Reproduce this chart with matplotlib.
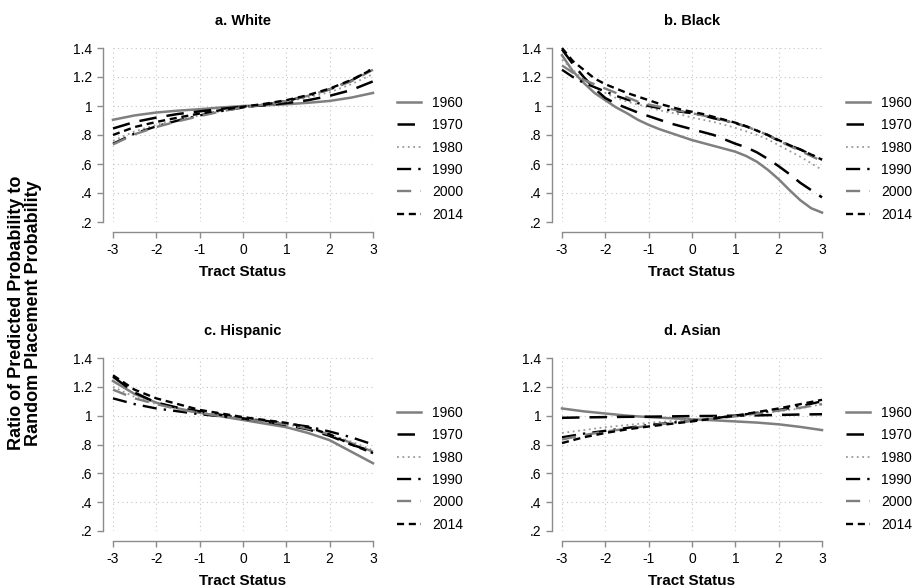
import matplotlib
matplotlib.use("Agg")
import matplotlib.pyplot as plt
import numpy as np

plt.rcParams['font.family'] = ['Liberation Sans', 'DejaVu Sans']

# tract status grids the curves are read at
x = np.arange(-3, 3.01, 0.5)
x_fine = np.arange(-3, 3.01, 0.25)

years = ["1960", "1970", "1980", "1990", "2000", "2014"]

white = {
    "1960": [0.905, 0.935, 0.955, 0.968, 0.978, 0.99, 1.0, 1.005, 1.012, 1.022, 1.035, 1.058, 1.09],
    "1970": [0.845, 0.89, 0.92, 0.945, 0.963, 0.98, 0.995, 1.005, 1.02, 1.04, 1.07, 1.11, 1.17],
    "1980": [0.76, 0.825, 0.87, 0.905, 0.935, 0.965, 0.99, 1.01, 1.03, 1.06, 1.095, 1.15, 1.22],
    "1990": [0.74, 0.81, 0.86, 0.90, 0.935, 0.965, 0.99, 1.01, 1.035, 1.07, 1.115, 1.175, 1.26],
    "2000": [0.735, 0.805, 0.855, 0.895, 0.93, 0.963, 0.99, 1.01, 1.035, 1.07, 1.115, 1.17, 1.25],
    "2014": [0.80, 0.855, 0.89, 0.92, 0.948, 0.972, 0.995, 1.015, 1.04, 1.075, 1.12, 1.18, 1.255],
}
# black panel bends more, read every quarter step
black = {
    "1960": [1.35, 1.24, 1.16, 1.09, 1.04, 0.99, 0.95, 0.905, 0.87, 0.84, 0.815, 0.79, 0.765,
             0.745, 0.725, 0.705, 0.685, 0.655, 0.615, 0.56, 0.495, 0.42, 0.35, 0.295, 0.265],
    "1970": [1.39, 1.29, 1.20, 1.12, 1.055, 1.015, 0.985, 0.955, 0.93, 0.905, 0.88, 0.86, 0.84,
             0.82, 0.80, 0.77, 0.74, 0.715, 0.68, 0.635, 0.585, 0.53, 0.47, 0.42, 0.37],
    "1980": [1.32, 1.25, 1.18, 1.13, 1.09, 1.055, 1.03, 1.01, 0.99, 0.97, 0.955, 0.94, 0.92,
             0.905, 0.89, 0.87, 0.85, 0.825, 0.80, 0.77, 0.73, 0.69, 0.65, 0.605, 0.56],
    "1990": [1.25, 1.20, 1.16, 1.13, 1.10, 1.07, 1.045, 1.02, 1.0, 0.985, 0.97, 0.96, 0.95,
             0.935, 0.915, 0.90, 0.88, 0.86, 0.83, 0.80, 0.76, 0.73, 0.70, 0.665, 0.63],
    "2000": [1.28, 1.23, 1.18, 1.15, 1.12, 1.09, 1.06, 1.03, 1.01, 0.995, 0.98, 0.965, 0.95,
             0.935, 0.92, 0.90, 0.88, 0.86, 0.83, 0.80, 0.76, 0.725, 0.69, 0.655, 0.62],
    "2014": [1.40, 1.31, 1.25, 1.19, 1.15, 1.12, 1.09, 1.065, 1.04, 1.015, 0.995, 0.975, 0.96,
             0.945, 0.925, 0.905, 0.885, 0.86, 0.83, 0.80, 0.765, 0.73, 0.70, 0.665, 0.63],
}
hispanic = {
    "1960": [1.24, 1.15, 1.09, 1.05, 1.02, 0.995, 0.97, 0.945, 0.92, 0.88, 0.83, 0.75, 0.67],
    "1970": [1.27, 1.16, 1.09, 1.055, 1.03, 1.005, 0.98, 0.96, 0.935, 0.905, 0.86, 0.80, 0.75],
    "1980": [1.20, 1.13, 1.08, 1.045, 1.02, 1.0, 0.98, 0.96, 0.94, 0.91, 0.87, 0.82, 0.76],
    "1990": [1.12, 1.08, 1.05, 1.03, 1.01, 0.995, 0.98, 0.965, 0.945, 0.925, 0.89, 0.85, 0.80],
    "2000": [1.18, 1.12, 1.08, 1.045, 1.02, 0.995, 0.975, 0.96, 0.94, 0.91, 0.87, 0.81, 0.75],
    "2014": [1.28, 1.18, 1.12, 1.08, 1.04, 1.015, 0.99, 0.97, 0.95, 0.92, 0.87, 0.80, 0.74],
}
asian = {
    "1960": [1.05, 1.03, 1.015, 1.0, 0.99, 0.982, 0.975, 0.968, 0.96, 0.952, 0.94, 0.922, 0.90],
    "1970": [0.985, 0.988, 0.99, 0.992, 0.993, 0.995, 0.997, 0.998, 1.0, 1.002, 1.005, 1.008, 1.01],
    "1980": [0.88, 0.90, 0.92, 0.935, 0.95, 0.962, 0.975, 0.988, 1.0, 1.015, 1.03, 1.05, 1.08],
    "1990": [0.85, 0.875, 0.895, 0.915, 0.935, 0.95, 0.965, 0.982, 1.0, 1.02, 1.04, 1.065, 1.10],
    "2000": [0.835, 0.865, 0.89, 0.91, 0.93, 0.948, 0.965, 0.98, 0.995, 1.015, 1.035, 1.055, 1.08],
    "2014": [0.81, 0.85, 0.88, 0.905, 0.925, 0.943, 0.96, 0.98, 1.0, 1.025, 1.05, 1.08, 1.11],
}

panels = [("a. White", x, white), ("b. Black", x_fine, black),
          ("c. Hispanic", x, hispanic), ("d. Asian", x, asian)]

xticks = [-3, -2, -1, 0, 1, 2, 3]
yticks = [0.2, 0.4, 0.6, 0.8, 1.0, 1.2, 1.4]
ylabels = [".2", ".4", ".6", ".8", "1", "1.2", "1.4"]

gray = "#7f7f7f"
styles = {
    "1960": dict(color=gray, ls="-", lw=1.8),
    "1970": dict(color="black", ls=(0, (7, 4)), lw=1.8),
    "1980": dict(color="#9a9a9a", ls=(0, (1, 2)), lw=1.3),
    "1990": dict(color="black", ls=(0, (6, 3, 1, 3)), lw=1.7),
    "2000": dict(color=gray, ls=(0, (6, 4)), lw=1.7),
    "2014": dict(color="black", ls=(0, (3, 2)), lw=1.7),
}

W, H = 914, 587
fig = plt.figure(figsize=(W / 100, H / 100), dpi=100)

# pixel positions: (left x of -3, top y of 1.4, bottom y of .2)
boxes = [(113, 48, 222), (562, 48, 222), (113, 358, 531), (562, 358, 531)]
plot_w = 260

for (title, xs, data), (lx, ty, by) in zip(panels, boxes):
    ax = fig.add_axes([lx / W, 1 - by / H, plot_w / W, (by - ty) / H])
    for yr in years:
        ax.plot(xs, data[yr], label=yr, clip_on=False, **styles[yr])
    ax.set_xlim(-3, 3)
    ax.set_ylim(0.2, 1.4)
    ax.set_xticks(xticks)
    ax.set_xticklabels([str(t) for t in xticks])
    ax.set_yticks(yticks)
    ax.set_yticklabels(ylabels)
    ax.grid(True, color="#c4c4c4", ls=(0, (1, 3)), lw=0.8)
    for s in ["top", "right"]:
        ax.spines[s].set_visible(False)
    for s in ["left", "bottom"]:
        ax.spines[s].set_position(("outward", 7.5))
        ax.spines[s].set_color("#8c8c8c")
        ax.spines[s].set_linewidth(1.0)
    ax.tick_params(colors="#8c8c8c", labelcolor="black", labelsize=10,
                   length=4, width=1.0)
    ax.set_title(title, fontsize=10.5, fontweight="bold", pad=16.5)
    ax.set_xlabel("Tract Status", fontsize=11, fontweight="bold", labelpad=6)
    ax.legend(loc="upper left",
              bbox_to_anchor=((lx + 284) / W, 1 - (ty + 48) / H),
              bbox_transform=fig.transFigure, frameon=False, fontsize=10,
              handlelength=1.75, handletextpad=0.8, labelspacing=0.6,
              borderpad=0, borderaxespad=0)

fig.text(25 / W, 1 - 313 / H,
         "Ratio of Predicted Probability to\nRandom Placement Probability",
         rotation=90, ha="center", va="center", fontsize=13,
         fontweight="bold", linespacing=1.0)

fig.savefig("out.png", dpi=100)
